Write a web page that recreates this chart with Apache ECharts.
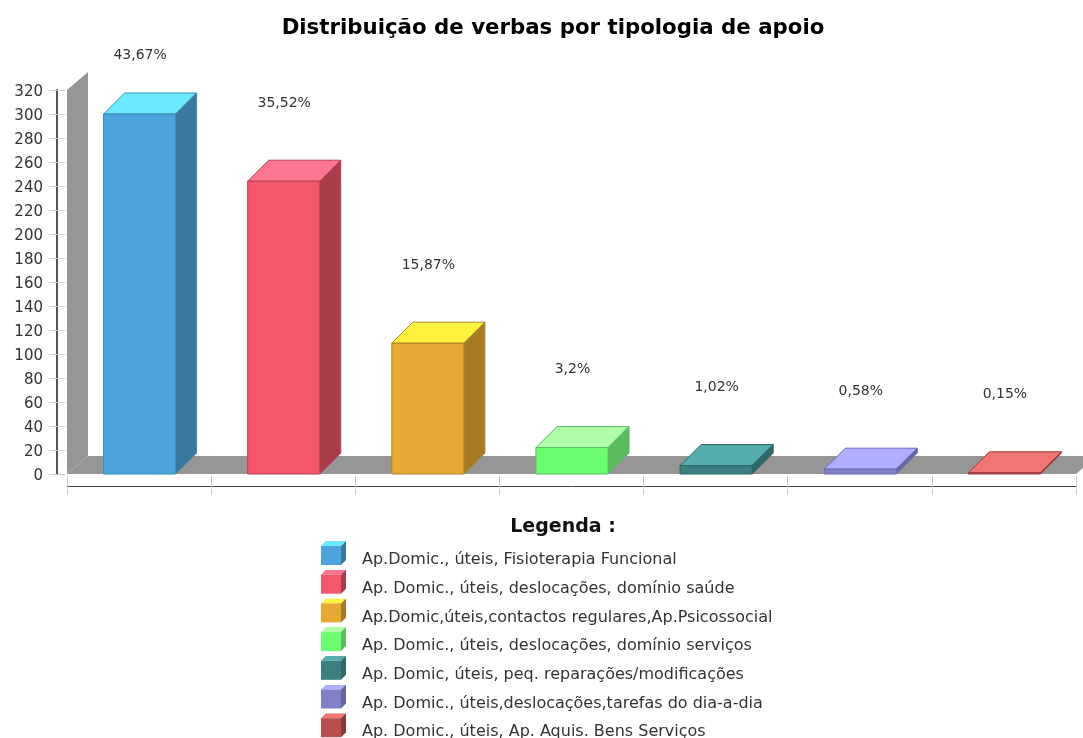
<!DOCTYPE html>
<html>
<head>
<meta charset="utf-8">
<style>html,body{margin:0;padding:0;background:#fff;overflow:hidden}#c{width:1083px;height:738px}</style>
<script src="https://cdn.jsdelivr.net/npm/echarts@6/dist/echarts.min.js"></script>
</head>
<body>
<div id="c"></div>
<script>
const titleText = 'Distribuição de verbas por tipologia de apoio';
const legendTitle = 'Legenda :';
const categories = [
  'Ap.Domic., úteis, Fisioterapia Funcional',
  'Ap. Domic., úteis, deslocações, domínio saúde',
  'Ap.Domic,úteis,contactos regulares,Ap.Psicossocial',
  'Ap. Domic., úteis, deslocações, domínio serviços',
  'Ap. Domic, úteis, peq. reparações/modificações',
  'Ap. Domic., úteis,deslocações,tarefas do dia-a-dia',
  'Ap. Domic., úteis, Ap. Aquis. Bens Serviços'
];
const values = [300, 244, 109, 22, 7, 4, 1];
const percentLabels = ['43,67%', '35,52%', '15,87%', '3,2%', '1,02%', '0,58%', '0,15%'];
const frontColors = ['#4fa3dc', '#f4566b', '#e6a934', '#6cfc72', '#3d7f7f', '#8080c8', '#b85050'];
const topColors   = ['#6be9fd', '#fd7691', '#fff23f', '#b0fca8', '#55aeac', '#b0aeff', '#f07676'];
const sideColors  = ['#3a789e', '#a83c4b', '#a77b26', '#5bbb5f', '#2f6a6a', '#6666a0', '#8a3838'];
const edgeColors  = ['#3a8fb0', '#b84058', '#b08428', '#55c060', '#2c6464', '#6a6ab8', '#a03c3c'];

const DEPTH = 21, FRAME_DX = 21, FRAME_DY = 18, LABEL_GAP = 78, LABEL_MIN_Y = 55;
const WALL = '#969696', FONT = '"DejaVu Sans", sans-serif', TEXT = '#333';

function cubeIcon(i) {
  const svg = `<svg xmlns="http://www.w3.org/2000/svg" width="25" height="38" viewBox="0 0 25 38">` +
    `<polygon points="0,5 5,0 25,0 20,5" fill="${topColors[i]}"/>` +
    `<polygon points="20,5 25,0 25,19 20,24" fill="${sideColors[i]}"/>` +
    `<rect x="0" y="5" width="20" height="19" fill="${frontColors[i]}"/></svg>`;
  return 'image://data:image/svg+xml;charset=utf-8,' + encodeURIComponent(svg);
}

function renderFrame(params, api) {
  const cs = params.coordSys;
  const o = api.coord([0, 0]);
  const left = cs.x, right = cs.x + cs.width, top = cs.y, base = o[1];
  return {
    type: 'group',
    children: [
      { type: 'polygon', shape: { points: [[left, base], [left + FRAME_DX, base - FRAME_DY], [left + FRAME_DX, top - FRAME_DY], [left, top]] }, style: { fill: WALL } },
      { type: 'polygon', shape: { points: [[left, base], [left + FRAME_DX, base - FRAME_DY], [right + FRAME_DX, base - FRAME_DY], [right, base]] }, style: { fill: WALL } }
    ]
  };
}

function renderBar(i) {
  return function (params, api) {
    const idx = api.value(0), val = api.value(1);
    const t = api.coord([idx, val]), b = api.coord([idx, 0]);
    const w = api.size([1, 0])[0] * 0.5;
    const x0 = t[0] - w / 2 + 0.5, x1 = t[0] + w / 2 + 0.5, y0 = t[1], y1 = b[1];
    const edge = edgeColors[i];
    return {
      type: 'group',
      children: [
        { type: 'polygon', shape: { points: [[x0, y0], [x0 + DEPTH, y0 - DEPTH], [x1 + DEPTH, y0 - DEPTH], [x1, y0]] },
          style: { fill: topColors[i], stroke: edge, lineWidth: 1 } },
        { type: 'polygon', shape: { points: [[x1, y0], [x1 + DEPTH, y0 - DEPTH], [x1 + DEPTH, y1 - DEPTH], [x1, y1]] },
          style: { fill: sideColors[i], stroke: edge, lineWidth: 1 } },
        { type: 'rect', shape: { x: x0, y: y0, width: w, height: y1 - y0 },
          style: { fill: frontColors[i], stroke: edge, lineWidth: 1 } },
        { type: 'text', style: { x: t[0] + 1, y: Math.max(y0 - LABEL_GAP, LABEL_MIN_Y), text: percentLabels[i],
          textAlign: 'center', textVerticalAlign: 'middle', font: '14px ' + FONT, fill: TEXT } }
      ]
    };
  };
}

const yBase = { type: 'value', position: 'left', min: 0, max: 320, interval: 20, splitLine: { show: false } };
const xBase = { type: 'category', position: 'bottom', data: categories, boundaryGap: true, axisLabel: { show: false } };

const option = {
  animation: false,
  backgroundColor: '#fff',
  title: [
    { text: titleText, left: 548, top: 13, textAlign: 'center',
      textStyle: { fontFamily: FONT, fontSize: 21.3, fontWeight: 'bold', color: '#000' } },
    { text: legendTitle, left: 558, top: 513, textAlign: 'center',
      textStyle: { fontFamily: FONT, fontSize: 19, fontWeight: 'bold', color: '#111' } }
  ],
  grid: { left: 67, right: 7, top: 90, bottom: 264, containLabel: false },
  xAxis: [
    Object.assign({}, xBase, { offset: 12, axisLine: { onZero: false, lineStyle: { color: '#444', width: 1 } }, axisTick: { show: false } }),
    Object.assign({}, xBase, { offset: 2, axisLine: { onZero: false, show: false }, axisTick: { show: true, interval: 0, length: 19, lineStyle: { color: '#ccc' } } })
  ],
  yAxis: [
    Object.assign({}, yBase, { offset: 10, axisLine: { show: true, lineStyle: { color: '#555', width: 2 } }, axisTick: { show: false },
      axisLabel: { margin: 14, fontFamily: FONT, fontSize: 15, color: TEXT, verticalAlign: 'top', lineHeight: 4 } }),
    Object.assign({}, yBase, { offset: 2, axisLine: { show: false }, axisTick: { show: true, length: 16, lineStyle: { color: '#ccc' } }, axisLabel: { show: false } })
  ],
  legend: {
    orient: 'vertical', left: 321, top: 541, height: 400, padding: 0,
    itemWidth: 25, itemHeight: 38, itemGap: -9.3, selectedMode: false,
    textStyle: { fontFamily: FONT, fontSize: 16, color: TEXT, padding: [0, 0, 0, 11] },
    data: categories.map((name, i) => ({ name, icon: cubeIcon(i) }))
  },
  series: [
    { type: 'custom', name: 'frame', renderItem: renderFrame, data: [[0, 0]], encode: { x: 0, y: 1 }, silent: true, z: 1, clip: false }
  ].concat(categories.map((name, i) => ({
    type: 'custom', name, renderItem: renderBar(i), data: [[i, values[i]]], encode: { x: 0, y: 1 }, z: 2, clip: false,
    itemStyle: { color: frontColors[i] }
  })))
};
echarts.init(document.getElementById('c')).setOption(option);
</script>
</body>
</html>
